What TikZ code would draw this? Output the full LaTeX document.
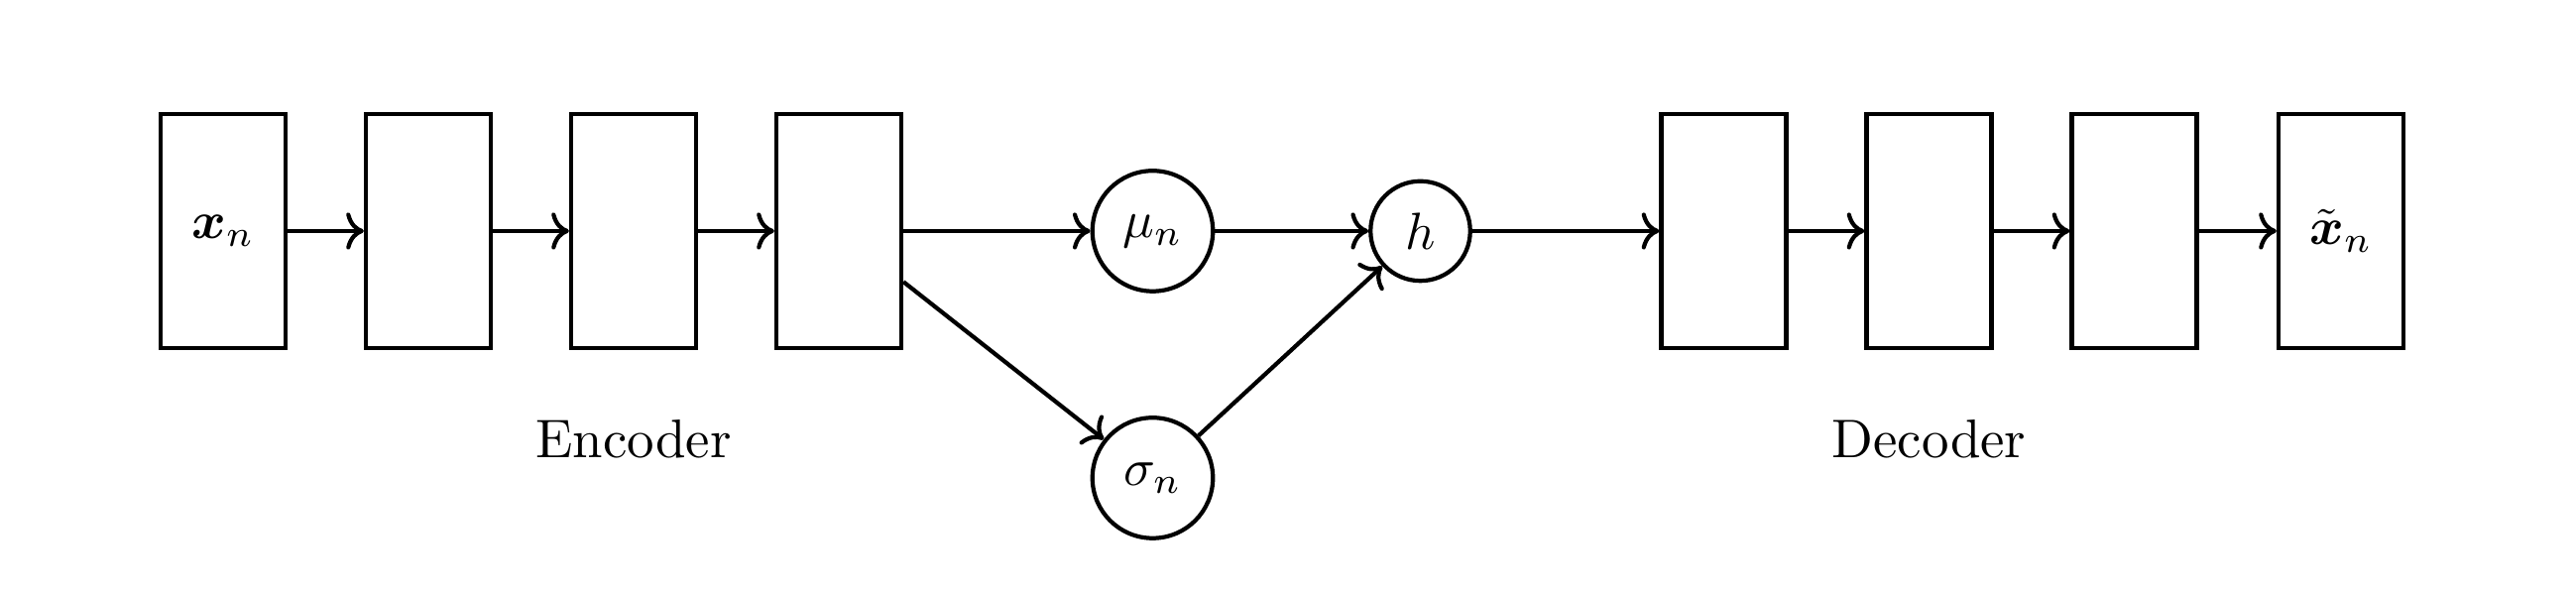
\documentclass[tikz,border=0pt]{standalone}
\usepackage{amsmath,amssymb}
\usepackage{tikz}
\usetikzlibrary{arrows.meta,positioning}

\begin{document}
\begin{tikzpicture}[
  every node/.style={font=\fontsize{10.4}{12.5}\selectfont},
  layer/.style={draw, thick, minimum width=0.84cm, minimum height=1.57cm, inner sep=0pt},
  unit/.style={draw, thick, circle, inner sep=0pt, minimum size=0.81cm},
  arr/.style={->, thick}
]
  \useasboundingbox (-1.5, 1.553) rectangle (15.82, -2.44);

  % encoder
  \node[layer] (in) at (0, 0) {$\boldsymbol{x}_n$};
  \node[layer] (enc1) at (1.38, 0) {};
  \node[layer] (enc2) at (2.76, 0) {};
  \node[layer] (enc3) at (4.14, 0) {};

  % latent
  \node[unit] (mu) at (6.25, 0) {$\mu_n$};
  \node[unit] (sigma) at (6.25, -1.66) {$\sigma_n$};
  \node[unit, minimum size=0.67cm] (h) at (8.05, 0) {$h$};

  % decoder
  \node[layer] (dec1) at (10.09, 0) {};
  \node[layer] (dec2) at (11.47, 0) {};
  \node[layer] (dec3) at (12.85, 0) {};
  \node[layer] (out) at (14.24, 0) {$\tilde{\boldsymbol{x}}_n$};

  \draw[arr] (in) -- (enc1);
  \draw[arr] (enc1) -- (enc2);
  \draw[arr] (enc2) -- (enc3);
  \draw[arr] (enc3) -- (mu);
  \draw[arr] (enc3) -- (sigma);
  \draw[arr] (mu) -- (h);
  \draw[arr] (sigma) -- (h);
  \draw[arr] (h) -- (dec1);
  \draw[arr] (dec1) -- (dec2);
  \draw[arr] (dec2) -- (dec3);
  \draw[arr] (dec3) -- (out);

  \node (enclabel) at (2.76, -1.4) {Encoder};
  \node (declabel) at (11.47, -1.4) {Decoder};
\end{tikzpicture}
\end{document}
